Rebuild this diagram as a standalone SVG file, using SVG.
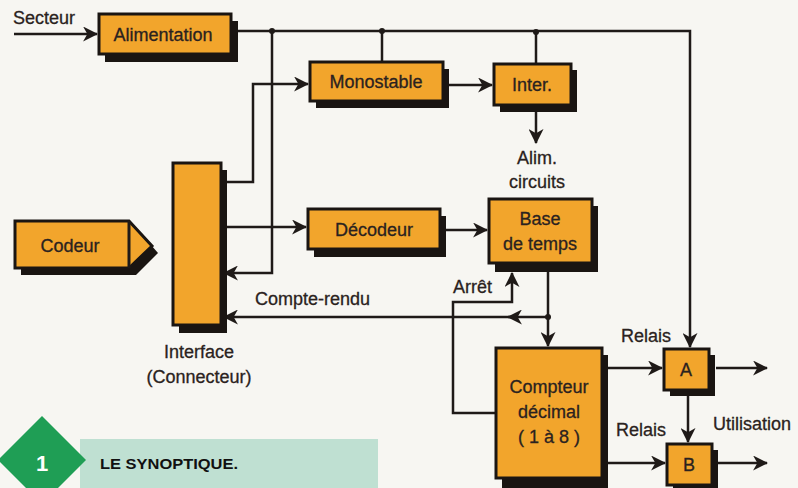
<svg xmlns="http://www.w3.org/2000/svg" width="798" height="488" viewBox="0 0 798 488">
<defs>
<marker id="ah" viewBox="0 0 14 14" refX="13" refY="7" markerWidth="15" markerHeight="15" markerUnits="userSpaceOnUse" orient="auto">
<path d="M0,0 L14,7 L0,14 L4,7 Z" fill="#1f1a18"/>
</marker>
<style>
.sh{fill:#1a1512}
.bx{fill:#f2a52c;stroke:#1a1512;stroke-width:3}
.t{font-family:"Liberation Sans",Arial,sans-serif;font-size:18px;fill:#2a2220;stroke:#2a2220;stroke-width:0.3;text-anchor:middle}
.l{font-family:"Liberation Sans",Arial,sans-serif;font-size:18px;fill:#2a2220;stroke:#2a2220;stroke-width:0.3}
.w{fill:none;stroke:#1f1a18;stroke-width:2.5}
.a{marker-end:url(#ah)}
.d{fill:#1f1a18}
</style>
</defs>
<rect width="798" height="488" fill="#f7f6f2"/>

<g id="connectors">
<path class="w a" d="M14,34 H97"/>
<path class="w a" d="M238,31 H690 V347"/>
<path class="w a" d="M272,31 V273 H224"/>
<path class="w" d="M382,31 V62"/>
<path class="w" d="M536,33 V64"/>
<path class="w a" d="M227,182 H253 V84 H308"/>
<path class="w a" d="M449,85 H492"/>
<path class="w a" d="M536,112 V143"/>
<path class="w a" d="M227,227 H306"/>
<path class="w a" d="M446,230 H487"/>
<path class="w a" d="M548,272 V346"/>
<path class="w a" d="M548,317 H508"/>
<path class="w a" d="M512,317 H224"/>
<path class="w a" d="M496,413 H453 V302 H512 V273"/>
<path class="w a" d="M608,368 H662"/>
<path class="w a" d="M716,368 H767"/>
<path class="w a" d="M688,396 V442"/>
<path class="w a" d="M608,463 H665"/>
<path class="w a" d="M718,463 H767"/>
<circle class="d" cx="272" cy="31" r="3"/>
<circle class="d" cx="382" cy="31" r="3"/>
<circle class="d" cx="536" cy="32" r="3"/>
<circle class="d" cx="548" cy="317" r="3"/>
</g>

<g id="secteur"><text class="l" x="13" y="24">Secteur</text></g>

<g id="alimentation">
<rect class="sh" x="105" y="21" width="133" height="41"/>
<rect class="bx" x="99" y="14" width="132" height="40"/>
<text class="t" x="163" y="41">Alimentation</text>
</g>

<g id="monostable">
<rect class="sh" x="316" y="69" width="133" height="39"/>
<rect class="bx" x="310" y="62" width="133" height="39"/>
<text class="t" x="376" y="88">Monostable</text>
</g>

<g id="inter">
<rect class="sh" x="500" y="70" width="77" height="42"/>
<rect class="bx" x="494" y="64" width="77" height="41"/>
<text class="t" x="532" y="91">Inter.</text>
</g>

<g id="alim-circuits">
<text class="t" x="537" y="164">Alim.</text>
<text class="t" x="537" y="188">circuits</text>
</g>

<g id="codeur">
<path class="sh" d="M21,228 H136 L158,253 L136,275 H21 Z"/>
<path class="bx" d="M15,221 H129 L152,246 L129,268 H15 Z"/>
<path class="w" d="M129,221 V268" style="stroke-width:3"/>
<text class="t" x="70" y="252">Codeur</text>
</g>

<g id="interface">
<rect class="sh" x="179" y="170" width="48" height="163"/>
<rect class="bx" x="173" y="163" width="48" height="162"/>
<text class="t" x="199" y="358">Interface</text>
<text class="t" x="199" y="383">(Connecteur)</text>
</g>

<g id="decodeur">
<rect class="sh" x="314" y="216" width="132" height="41"/>
<rect class="bx" x="308" y="209" width="132" height="40"/>
<text class="t" x="374" y="236">Décodeur</text>
</g>

<g id="base-de-temps">
<rect class="sh" x="495" y="206" width="103" height="66"/>
<rect class="bx" x="489" y="199" width="103" height="64"/>
<text class="t" x="540" y="225">Base</text>
<text class="t" x="540" y="250">de temps</text>
</g>

<g id="labels">
<text class="l" x="255" y="305">Compte-rendu</text>
<text class="l" x="453" y="293">Arrêt</text>
<text class="l" x="621" y="342">Relais</text>
<text class="l" x="616" y="436">Relais</text>
<text class="l" x="713" y="430">Utilisation</text>
</g>

<g id="compteur">
<rect class="sh" x="502" y="355" width="106" height="133"/>
<rect class="bx" x="496" y="348" width="106" height="130"/>
<text class="t" x="549" y="393">Compteur</text>
<text class="t" x="549" y="418">décimal</text>
<text class="t" x="549" y="443">( 1 à 8 )</text>
</g>

<g id="relais-a">
<rect class="sh" x="670" y="355" width="45" height="41"/>
<rect class="bx" x="664" y="349" width="45" height="41"/>
<text class="t" x="686" y="376">A</text>
</g>

<g id="relais-b">
<rect class="sh" x="673" y="450" width="45" height="41"/>
<rect class="bx" x="667" y="444" width="45" height="41"/>
<text class="t" x="689" y="471">B</text>
</g>

<g id="legend">
<rect x="80" y="439" width="298" height="49" fill="#bfe0d2"/>
<polygon points="42,416 86,460 42,504 -2,460" fill="#1f9e55"/>
<text x="42" y="471" font-family="'Liberation Sans',Arial,sans-serif" font-size="22" font-weight="bold" fill="#ffffff" text-anchor="middle">1</text>
<text x="100" y="469" font-family="'Liberation Sans',Arial,sans-serif" font-size="15" font-weight="bold" fill="#111111" textLength="138" lengthAdjust="spacingAndGlyphs">LE SYNOPTIQUE.</text>
</g>
</svg>
